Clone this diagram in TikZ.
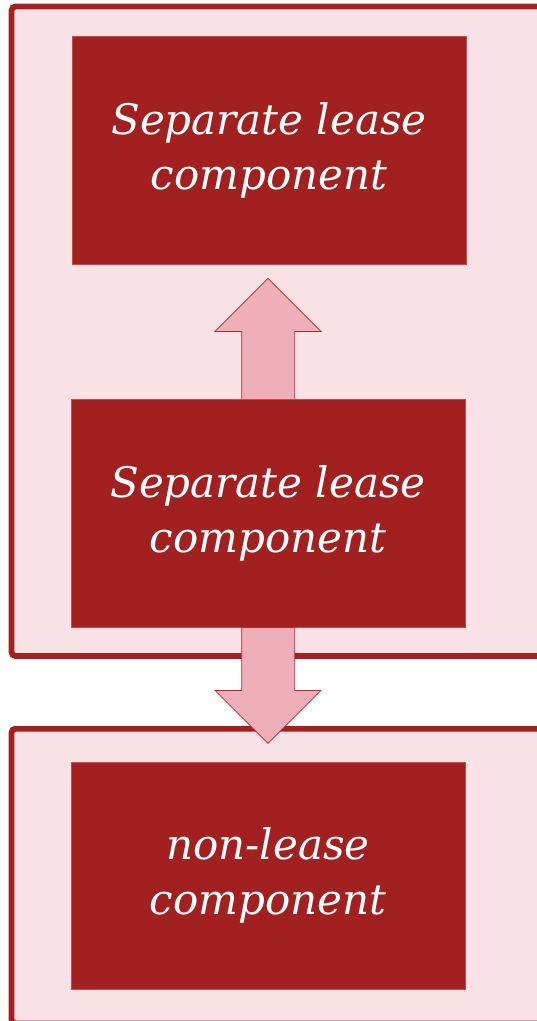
\documentclass[tikz,border=0pt]{standalone}
\usepackage{fontspec}
\setmainfont{DejaVu Serif}
\usetikzlibrary{calc}
\definecolor{panelfill}{RGB}{249,226,229}
\definecolor{darkred}{RGB}{163,32,33}
\definecolor{boxedge}{RGB}{196,72,76}
\definecolor{arrowfill}{RGB}{238,174,184}
\definecolor{arrowedge}{RGB}{181,42,46}
\begin{document}
\begin{tikzpicture}[x=1pt,y=-1pt,
  panel/.style={draw=darkred,fill=panelfill,line width=5.8pt,rounded corners=4pt},
  compbox/.style={rectangle,fill=darkred,draw=boxedge,line width=0.8pt,
    minimum width=394pt,minimum height=228pt,inner sep=0pt,text=white,align=center,
    font=\fontsize{42}{55}\selectfont\itshape},
  blockarrow/.style={fill=arrowfill,draw=arrowedge,line width=0.8pt,line join=miter}]
\useasboundingbox (0,0) rectangle (537,1021);
\clip (0,0) rectangle (537,1021);
% outer panels
\draw[panel] (11.5,6.5) rectangle (570,656);
\draw[panel] (11.5,728.7) rectangle (570,1023.5);
% component boxes
\node[compbox] (top) at (269,150) {Separate lease\\component};
% arrow from the middle box up to the top box
\draw[blockarrow] ($(top.south)+(-1,14)$) coordinate (uptip)
  -- ++(53,53) -- ++(-26.3,0) -- ++(0,68) -- ++(-53,0) -- ++(0,-68) -- ++(-26.7,0) -- cycle;
\node[compbox] (mid) at (268,513) {Separate lease\\component};
\node[compbox,minimum height=227pt] (low) at (268,875.5) {non-lease\\component};
% arrow from the middle box down to the lower panel
\draw[blockarrow] ($(mid.south)+(-26.3,0)$) -- ++(53,0) -- ++(0,63) -- ++(26.3,0)
  -- ($(mid.south)+(0,116)$) coordinate (downtip) -- ++(-53,-53) -- ++(26.7,0) -- cycle;
\end{tikzpicture}
\end{document}
